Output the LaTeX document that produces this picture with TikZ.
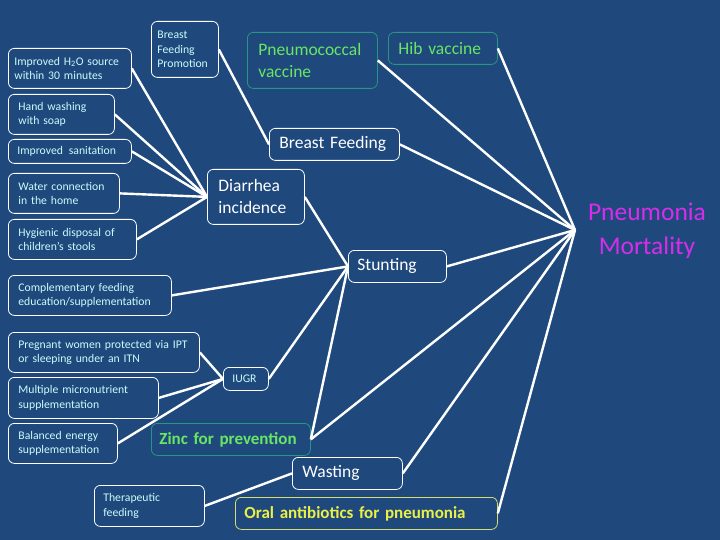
\documentclass[tikz,border=0pt]{standalone}
\usepackage{fontspec}
\setmainfont{Carlito}
\definecolor{bg}{RGB}{31,73,125}
\definecolor{cyantext}{RGB}{205,250,250}
\definecolor{greentext}{RGB}{105,230,100}
\definecolor{tealline}{RGB}{40,150,130}
\definecolor{yellowtext}{RGB}{235,240,70}
\definecolor{yellowline}{RGB}{215,220,110}
\definecolor{magentatext}{RGB}{215,45,235}
\tikzset{
  box/.style={draw, rounded corners=6pt, line width=0.8pt, anchor=north west,
    align=left, inner ysep=0pt},
  smallbox/.style={box, draw=white, text=cyantext,
    font=\fontsize{11.7}{14.5}\selectfont},
  bigbox/.style={box, draw=white, text=white,
    font=\fontsize{17.5}{22}\selectfont},
  greenbox/.style={box, draw=tealline, text=greentext,
    font=\fontsize{17.5}{22}\selectfont},
  yellowbox/.style={box, draw=yellowline, text=yellowtext,
    font=\fontsize{17}{22}\selectfont\bfseries},
  link/.style={draw=white, line width=2.4pt},
}
\begin{document}
\begin{tikzpicture}[x=1pt,y=-1pt]
\fill[bg] (0,0) rectangle (720,540);
\useasboundingbox (0,0) rectangle (720,540);

% small boxes
\node[smallbox, minimum width=123pt, minimum height=40pt, inner xsep=6pt, text width=111pt] (h2o) at (8,48) {Improved H\textsubscript{2}O source\\within 30 minutes};
\node[smallbox, minimum width=67pt, minimum height=56pt, inner xsep=6pt, text width=55pt] (bfp) at (151,21) {Breast\\Feeding\\Promotion};
\node[smallbox, minimum width=106pt, minimum height=40pt, inner xsep=10pt, text width=86pt] (hand) at (8,94) {Hand washing\\with soap};
\node[smallbox, minimum width=123pt, minimum height=24pt, inner xsep=9pt, text width=105pt] (sanit) at (8,139) {Improved\, sanitation};
\node[smallbox, minimum width=111pt, minimum height=40pt, inner xsep=10pt, text width=91pt] (water) at (8,173) {Water connection\\in the home};
\node[smallbox, minimum width=128pt, minimum height=40pt, inner xsep=10pt, text width=108pt] (hyg) at (8,219) {Hygienic disposal of\\children’s stools};
\node[smallbox, minimum width=163pt, minimum height=40pt, inner xsep=10pt, text width=143pt] (comp) at (8,275) {Complementary feeding\\education/supplementation};
\node[smallbox, minimum width=191pt, minimum height=40pt, inner xsep=10pt, text width=171pt] (preg) at (8,332) {Pregnant women protected via IPT\\or sleeping under an ITN};
\node[smallbox, minimum width=150pt, minimum height=41pt, inner xsep=10pt, text width=130pt] (micro) at (8,377) {Multiple micronutrient\\supplementation};
\node[smallbox, minimum width=109pt, minimum height=40pt, inner xsep=10pt, text width=89pt] (bal) at (8,423) {Balanced energy\\supplementation};
\node[smallbox, minimum width=110pt, minimum height=41pt, inner xsep=9pt, text width=92pt] (thera) at (94,485) {Therapeutic\\feeding};
\node[smallbox, minimum width=45pt, minimum height=23pt, inner xsep=9pt, text width=27pt] (iugr) at (223,367) {IUGR};

% big white boxes
\node[bigbox, minimum width=130pt, minimum height=32pt, inner xsep=10pt, text width=110pt] (bf) at (269,128) {Breast Feeding};
\node[bigbox, minimum width=97pt, minimum height=55pt, inner xsep=11pt, text width=75pt] (diarr) at (207,169) {Diarrhea\\incidence};
\node[bigbox, minimum width=98pt, minimum height=32pt, inner xsep=9pt, text width=80pt] (stunt) at (348,250) {Stunting};
\node[bigbox, minimum width=110pt, minimum height=32pt, inner xsep=10pt, text width=90pt] (wasting) at (292,457) {Wasting};

% green boxes
\node[greenbox, minimum width=130pt, minimum height=56pt, inner xsep=11pt, text width=108pt] (pneumo) at (247,32) {Pneumococcal\\vaccine};
\node[greenbox, minimum width=109pt, minimum height=32pt, inner xsep=10pt, text width=89pt] (hib) at (388,32) {Hib vaccine};
\node[greenbox, font=\fontsize{17}{22}\selectfont\bfseries, minimum width=159pt, minimum height=32pt, inner xsep=8pt, text width=143pt] (zinc) at (151,423) {Zinc for prevention};

% yellow box
\node[yellowbox, minimum width=262pt, minimum height=32pt, inner xsep=9pt, text width=244pt] (oral) at (235,497) {Oral antibiotics for pneumonia};

% outcome
\node[text=magentatext, align=center, font=\fontsize{25.5}{34}\selectfont] (pm) at (647,231) {Pneumonia\\Mortality};
\coordinate (pmc) at (575,230);

% connectors
\draw[link] (h2o.east) -- (diarr.west);
\draw[link] (hand.east) -- (diarr.west);
\draw[link] (sanit.east) -- (diarr.west);
\draw[link] (water.east) -- (diarr.west);
\draw[link] (hyg.east) -- (diarr.west);
\draw[link] (bfp.east) -- (bf.west);
\draw[link] (diarr.east) -- (stunt.west);
\draw[link] (comp.east) -- (stunt.west);
\draw[link] (iugr.east) -- (stunt.west);
\draw[link] (zinc.east) -- (stunt.west);
\draw[link] (preg.east) -- (iugr.west);
\draw[link] (micro.east) -- (iugr.west);
\draw[link] (bal.east) -- (iugr.west);
\draw[link] (thera.east) -- (wasting.west);
\draw[link] (pneumo.east) -- (pmc);
\draw[link] (hib.east) -- (pmc);
\draw[link] (bf.east) -- (pmc);
\draw[link] (stunt.east) -- (pmc);
\draw[link] (zinc.east) -- (pmc);
\draw[link] (wasting.east) -- (pmc);
\draw[link] (oral.east) -- (pmc);
\end{tikzpicture}
\end{document}
